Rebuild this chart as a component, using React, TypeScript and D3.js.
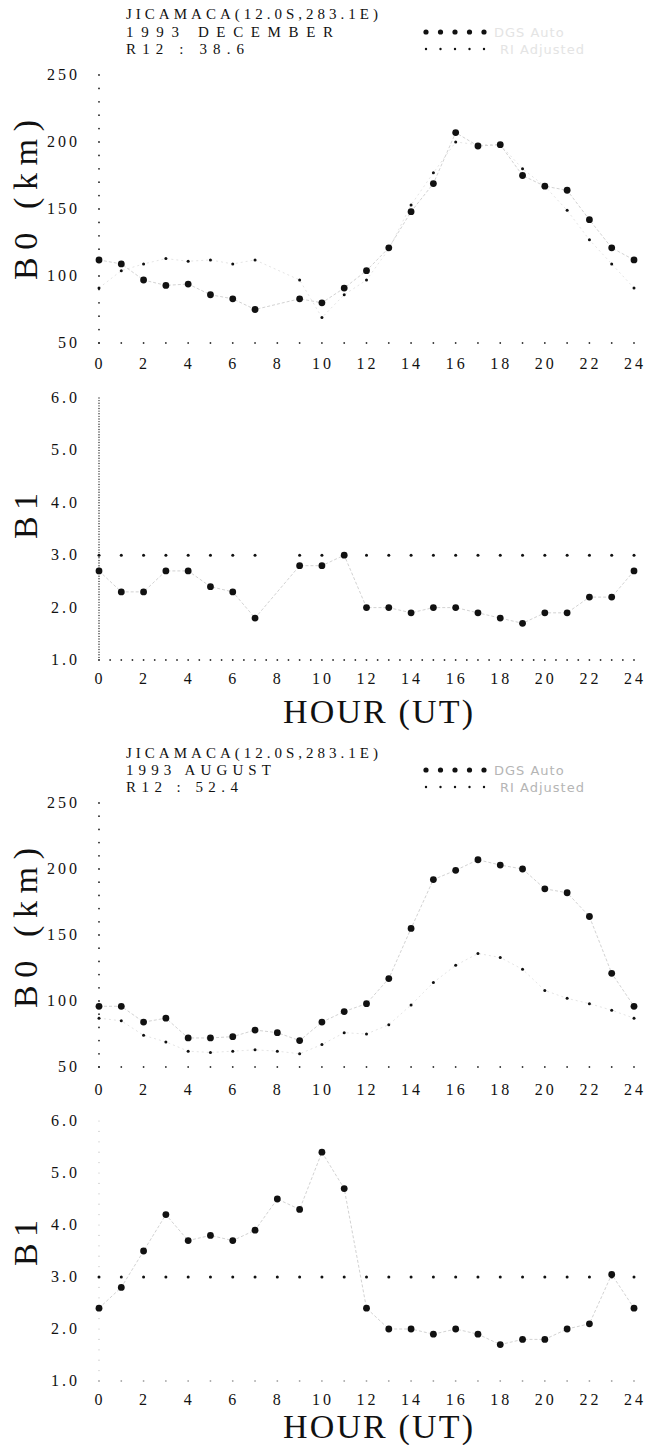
import React from 'react';
import * as d3 from 'd3';

const hours = [0, 1, 2, 3, 4, 5, 6, 7, 8, 9, 10, 11, 12, 13, 14, 15, 16, 17, 18, 19, 20, 21, 22, 23, 24];
const hourTicks = [0, 2, 4, 6, 8, 10, 12, 14, 16, 18, 20, 22, 24];
const b0Ticks = [50, 100, 150, 200, 250];
const b1Ticks = [1, 2, 3, 4, 5, 6];

const stationTitle = 'JICAMACA(12.0S,283.1E)';
const decMonth = '1993  DECEMBER';
const decR12 = 'R12  :  38.6';
const augMonth = '1993  AUGUST';
const augR12 = 'R12  :  52.4';
const legendLabels = ['DGS Auto', 'RI Adjusted'];

// December 1993
const decB0Dgs = [112, 109, 97, 93, 94, 86, 83, 75, null, 83, 80, 91, 104, 121, 148, 169, 207, 197, 198, 175, 167, 164, 142, 121, 112];
const decB0Ri = [91, 104, 109, 113, 111, 112, 109, 112, null, 97, 69, 86, 97, 120, 153, 177, 200, 198, 198, 180, 167, 149, 127, 109, 91];
const decB1Dgs = [2.7, 2.3, 2.3, 2.7, 2.7, 2.4, 2.3, 1.8, null, 2.8, 2.8, 3.0, 2.0, 2.0, 1.9, 2.0, 2.0, 1.9, 1.8, 1.7, 1.9, 1.9, 2.2, 2.2, 2.7];
const decB1Ri = [3, 3, 3, 3, 3, 3, 3, 3, null, 3, 3, 3, 3, 3, 3, 3, 3, 3, 3, 3, 3, 3, 3, 3, 3];

// August 1993
const augB0Dgs = [96, 96, 84, 87, 72, 72, 73, 78, 76, 70, 84, 92, 98, 117, 155, 192, 199, 207, 203, 200, 185, 182, 164, 121, 96];
const augB0Ri = [87, 85, 74, 69, 62, 61, 62, 63, 62, 60, 67, 76, 75, 82, 97, 114, 127, 136, 133, 124, 108, 102, 98, 93, 87];
const augB1Dgs = [2.4, 2.8, 3.5, 4.2, 3.7, 3.8, 3.7, 3.9, 4.5, 4.3, 5.4, 4.7, 2.4, 2.0, 2.0, 1.9, 2.0, 1.9, 1.7, 1.8, 1.8, 2.0, 2.1, 3.05, 2.4];
const augB1Ri = [3, 3, 3, 3, 3, 3, 3, 3, 3, 3, 3, 3, 3, 3, 3, 3, 3, 3, 3, 3, 3, 3, 3, 3, 3];

const SERIF = "'Liberation Serif', 'Times New Roman', Times, serif";
const SANS = "'DejaVu Sans', 'Liberation Sans', sans-serif";
const serifStyle = { fontFamily: SERIF };
const xScale = d3.scaleLinear().domain([0, 24]).range([99, 634]);

type PanelProps = {
  yTop: number;
  yBot: number;
  domain: [number, number];
  ticks: number[];
  fmt: (v: number) => string;
  dgs: (number | null)[];
  ri: (number | null)[];
  axisStep: number;
  axisR: number;
  axisColor: string;
  xStep: number;
  xAxisColor: string;
  xLabelOff: number;
  riLine: boolean;
};

function Panel(p: PanelProps) {
  const y = d3.scaleLinear().domain(p.domain).range([p.yBot, p.yTop]);
  const pts = (vals: (number | null)[]) =>
    hours.map((h, i) => ({ h, v: vals[i] })).filter((d) => d.v != null) as { h: number; v: number }[];
  const line = d3
    .line<{ h: number; v: number }>()
    .x((d) => xScale(d.h))
    .y((d) => y(d.v));
  const axisDots = d3.range(p.domain[0], p.domain[1] + 1e-9, p.axisStep);
  const xDots = d3.range(0, 24.0001, p.xStep);
  const base = y(p.domain[0]);
  return (
    <g>
      {axisDots.map((v, i) => (
        <circle key={'ya' + i} cx={xScale(0)} cy={y(v)} r={p.axisR} fill={p.axisColor} />
      ))}
      {xDots.map((h, i) => (
        <circle key={'xa' + i} cx={xScale(h)} cy={base} r={0.9} fill={p.xAxisColor} />
      ))}
      {p.ticks.map((t) => (
        <text key={'yt' + t} x={80} y={y(t) + 5} textAnchor="end" style={serifStyle} fontSize={16} letterSpacing={3} fill="#111">
          {p.fmt(t)}
        </text>
      ))}
      {hourTicks.map((h) => (
        <text key={'xt' + h} x={xScale(h) + 1} y={base + p.xLabelOff} textAnchor="middle" style={serifStyle} fontSize={16} letterSpacing={3} fill="#111">
          {h}
        </text>
      ))}
      <path d={line(pts(p.dgs)) || ''} fill="none" stroke="#b4b4b4" strokeWidth={0.6} strokeDasharray="3,2" />
      {p.riLine && <path d={line(pts(p.ri)) || ''} fill="none" stroke="#d2d2d2" strokeWidth={0.6} strokeDasharray="2,3" />}
      {pts(p.ri).map((d, i) => (
        <circle key={'ri' + i} cx={xScale(d.h)} cy={y(d.v)} r={1.5} fill="#111" />
      ))}
      {pts(p.dgs).map((d, i) => (
        <circle key={'dg' + i} cx={xScale(d.h)} cy={y(d.v)} r={3.4} fill="#111" />
      ))}
    </g>
  );
}

type ChartProps = {
  month: string;
  r12: string;
  titleY: number[];
  monthW: number;
  r12W: number;
  b0: [number, number];
  b1: [number, number];
  b0LabelY: number;
  b1LabelY: number;
  hourY: number;
  b0Dgs: (number | null)[];
  b0Ri: (number | null)[];
  b1Dgs: (number | null)[];
  b1Ri: (number | null)[];
  legendColor: string;
  denseB1Axis: boolean;
  b0XOff: number;
};

function Chart(c: ChartProps) {
  const legX = d3.range(0, 5).map((i) => 426 + i * 14.5);
  return (
    <g>
      <text x={126} y={c.titleY[0]} style={serifStyle} fontSize={15} textLength={252} lengthAdjust="spacing" fill="#111">
        {stationTitle}
      </text>
      <text x={126} y={c.titleY[1]} style={serifStyle} fontSize={15} textLength={c.monthW} lengthAdjust="spacing" fill="#111">
        {c.month}
      </text>
      <text x={126} y={c.titleY[2]} style={serifStyle} fontSize={15} textLength={c.r12W} lengthAdjust="spacing" fill="#111">
        {c.r12}
      </text>
      {legX.map((x, i) => (
        <circle key={'l1' + i} cx={x} cy={c.titleY[1] - 5} r={2.6} fill="#111" />
      ))}
      {legX.map((x, i) => (
        <circle key={'l2' + i} cx={x} cy={c.titleY[2] - 5} r={1.2} fill="#111" />
      ))}
      <text x={494} y={c.titleY[1]} style={{ fontFamily: SANS }} fontSize={13} fill={c.legendColor} letterSpacing={1}>
        {legendLabels[0]}
      </text>
      <text x={500} y={c.titleY[2]} style={{ fontFamily: SANS }} fontSize={13} fill={c.legendColor} letterSpacing={1}>
        {legendLabels[1]}
      </text>
      <Panel
        yTop={c.b0[0]}
        yBot={c.b0[1]}
        domain={[50, 250]}
        ticks={b0Ticks}
        fmt={(v) => String(v)}
        dgs={c.b0Dgs}
        ri={c.b0Ri}
        axisStep={10}
        axisR={0.9}
        axisColor="#222"
        xStep={1}
        xAxisColor="#333"
        xLabelOff={c.b0XOff}
        riLine={true}
      />
      <Panel
        yTop={c.b1[0]}
        yBot={c.b1[1]}
        domain={[1, 6]}
        ticks={b1Ticks}
        fmt={(v) => v.toFixed(1)}
        dgs={c.b1Dgs}
        ri={c.b1Ri}
        axisStep={c.denseB1Axis ? 0.05 : 0.2}
        axisR={c.denseB1Axis ? 0.7 : 0.6}
        axisColor={c.denseB1Axis ? '#222' : '#bbb'}
        xStep={c.denseB1Axis ? 0.5 : 1}
        xAxisColor={c.denseB1Axis ? '#333' : '#aaa'}
        xLabelOff={24}
        riLine={false}
      />
      <text
        transform={`translate(37,${c.b0LabelY}) rotate(-90)`}
        textAnchor="middle"
        style={serifStyle}
        fontSize={34}
        textLength={160}
        lengthAdjust="spacing"
        fill="#111"
      >
        B0 (km)
      </text>
      <text
        transform={`translate(37,${c.b1LabelY}) rotate(-90)`}
        textAnchor="middle"
        style={serifStyle}
        fontSize={34}
        textLength={46}
        lengthAdjust="spacing"
        fill="#111"
      >
        B1
      </text>
      <text x={283} y={c.hourY} style={serifStyle} fontSize={34} textLength={190} lengthAdjust="spacing" fill="#111">
        HOUR (UT)
      </text>
    </g>
  );
}

export default function App() {
  return (
    <svg
      width={645}
      height={1445}
      viewBox="0 0 645 1445"
      style={{ position: 'absolute', left: 0, top: 0, display: 'block', background: '#fff' }}
    >
      <rect x={0} y={0} width={645} height={1445} fill="#fff" />
      <Chart
        month={decMonth}
        r12={decR12}
        titleY={[19, 37, 54]}
        monthW={207}
        r12W={118}
        b0={[75, 343]}
        b1={[398, 660]}
        b0LabelY={200}
        b1LabelY={516}
        hourY={723}
        b0Dgs={decB0Dgs}
        b0Ri={decB0Ri}
        b1Dgs={decB1Dgs}
        b1Ri={decB1Ri}
        legendColor="#e4e4e4"
        denseB1Axis={true}
        b0XOff={26}
      />
      <Chart
        month={augMonth}
        r12={augR12}
        titleY={[758, 775, 792]}
        monthW={145}
        r12W={112}
        b0={[803, 1067]}
        b1={[1121, 1381]}
        b0LabelY={928}
        b1LabelY={1243}
        hourY={1438}
        b0Dgs={augB0Dgs}
        b0Ri={augB0Ri}
        b1Dgs={augB1Dgs}
        b1Ri={augB1Ri}
        legendColor="#b5b5b5"
        denseB1Axis={false}
        b0XOff={28}
      />
    </svg>
  );
}
